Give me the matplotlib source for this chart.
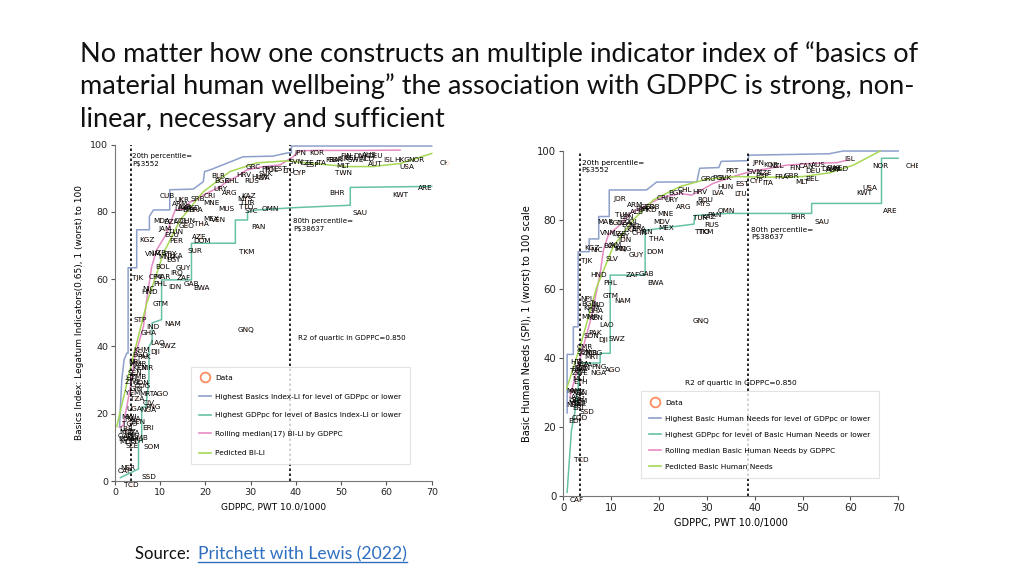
import matplotlib
matplotlib.use("Agg")
import matplotlib.pyplot as plt
from matplotlib.lines import Line2D
from matplotlib.transforms import Bbox, TransformedBbox

plt.rcParams['font.family'] = ['DejaVu Sans']

# ---- slide text ----
title_lines = [
    "No matter how one constructs an multiple indicator index of \u201cbasics of",
    "material human wellbeing\u201d the association with GDPPC is strong, non-",
    "linear, necessary and sufficient",
]
source_label = "Source:  "
source_link = "Pritchett with Lewis (2022)"

# ---- left panel: Legatum basics index ----
li_codes = ["JPN", "KOR", "SVN", "CZE", "ESP", "ITA", "FRA", "GBR", "ISR", "FIN",
            "BEL", "SWE", "DNK", "NLD", "AUS", "DEU", "AUT", "ISL", "HKG", "NOR",
            "USA", "CHE", "MLT", "TWN", "CYP", "BHR", "KWT", "ARE", "SAU", "GRC",
            "PRT", "POL", "EST", "LTU", "HUN", "SVK", "HRV", "RUS", "LVA", "BLR",
            "BGR", "CHL", "URY", "ARG", "SRB", "CRI", "MNE", "MUS", "KAZ", "MYS",
            "TUR", "TTO", "SYC", "OMN", "PAN", "TKM", "GNQ", "CUB", "UKR", "ARM",
            "ALB", "MKD", "BIH", "LBN", "BRA", "MDA", "DZA", "COL", "CHN", "THA",
            "MEX", "VEN", "JAM", "GEO", "TUN", "ECU", "PER", "AZE", "DOM", "KGZ",
            "SUR", "VNM", "UZB", "PRY", "MNG", "LKA", "EGY", "BOL", "GUY", "IRQ",
            "ZAF", "TJK", "CPV", "MAR", "PHL", "IDN", "GAB", "BWA", "NIC", "HND",
            "GTM", "STP", "IND", "NAM", "GHA", "LAO", "SWZ", "KHM", "DJI", "BGD",
            "PAK", "NPL", "MMR", "KEN", "CMR", "SEN", "ZMB", "HTI", "ZWE", "SDN",
            "COG", "GIN", "YEM", "MRT", "AGO", "TZA", "CIV", "PNG", "UGA", "NGA",
            "MWI", "RWA", "BEN", "TGO", "ERI", "LBR", "MOZ", "BFA", "AFG", "MLI",
            "GMB", "ETH", "MDG", "SLE", "SOM", "COD", "BDI", "SSD", "NER", "CAF",
            "TCD"]
li_gdp = [41.0, 44.5, 40.0, 42.5, 43.5, 45.5, 48.0, 48.8, 50.5, 51.0,
          52.2, 53.2, 54.5, 55.6, 56.2, 57.5, 57.5, 60.5, 63.5, 66.5,
          64.5, 73.5, 50.5, 50.5, 40.7, 49.0, 63.0, 68.5, 54.2, 30.5,
          33.8, 34.5, 36.5, 38.3, 31.8, 33.2, 28.4, 30.2, 32.8, 22.8,
          23.6, 25.8, 23.2, 25.4, 18.4, 21.0, 21.4, 24.7, 29.5, 28.8,
          29.3, 29.0, 30.2, 34.3, 31.7, 29.1, 28.9, 11.6, 14.7, 14.4,
          15.5, 17.0, 16.2, 14.8, 17.8, 10.3, 12.3, 14.5, 16.0, 19.2,
          21.2, 22.8, 11.0, 15.8, 13.3, 12.5, 13.5, 18.6, 19.2, 7.0,
          17.7, 8.5, 9.8, 12.2, 11.5, 13.5, 12.8, 10.5, 15.1, 13.6,
          15.1, 4.9, 9.0, 10.5, 10.0, 13.3, 16.9, 19.2, 7.4, 7.6,
          10.0, 5.5, 8.3, 12.7, 7.5, 9.4, 11.6, 5.9, 8.8, 5.6,
          6.5, 4.5, 5.0, 5.5, 6.8, 4.5, 5.2, 3.7, 4.0, 5.8,
          6.2, 4.6, 3.8, 7.0, 10.2, 4.8, 7.4, 8.5, 4.2, 7.4,
          3.0, 3.8, 5.0, 3.2, 7.4, 2.5, 2.9, 4.0, 3.3, 3.8,
          5.5, 4.8, 2.8, 3.7, 8.1, 2.3, 2.2, 7.4, 2.9, 2.2,
          3.7]
li_score = [97.5, 97.5, 95.0, 94.5, 94.0, 94.5, 95.5, 95.5, 95.8, 96.7,
            96.0, 95.5, 96.5, 95.8, 96.8, 96.5, 94.3, 95.3, 95.3, 95.3,
            93.5, 94.5, 93.7, 91.5, 91.6, 85.7, 85.0, 87.0, 79.6, 93.3,
            92.7, 92.5, 92.8, 92.3, 90.5, 91.2, 91.0, 89.2, 90.0, 90.7,
            89.3, 89.3, 86.7, 85.7, 84.0, 84.7, 82.7, 81.0, 84.7, 83.8,
            82.8, 81.4, 80.3, 81.0, 75.4, 68.2, 45.0, 84.7, 83.7, 82.4,
            81.5, 81.3, 80.5, 80.8, 80.6, 77.2, 77.1, 77.3, 77.2, 76.4,
            78.0, 77.6, 74.8, 75.8, 74.0, 73.0, 71.5, 72.6, 71.4, 71.6,
            68.5, 67.5, 67.8, 67.5, 66.5, 66.8, 65.7, 63.7, 63.2, 61.9,
            60.4, 60.4, 60.8, 60.6, 58.7, 57.7, 58.5, 57.4, 57.0, 56.2,
            52.5, 47.8, 45.8, 46.6, 44.1, 40.9, 40.2, 39.1, 38.4, 37.5,
            36.8, 35.5, 34.8, 33.5, 33.6, 32.0, 31.0, 30.5, 29.5, 29.2,
            28.4, 27.5, 26.3, 26.0, 25.8, 24.5, 23.2, 22.0, 21.5, 21.2,
            19.0, 18.5, 17.6, 17.0, 15.9, 15.5, 14.5, 14.2, 13.0, 12.5,
            12.8, 11.8, 11.5, 10.5, 10.1, 13.3, 12.5, 1.2, 4.0, 3.0,
            -1.3]

# envelope / smoother lines
li_best_x = [1.0, 1.2, 1.5, 2.0, 2.6, 2.9, 2.9, 4.8, 4.8, 7.6, 7.6, 8.5, 8.5, 12.1, 12.1,
             17.3, 19.5, 19.8, 21.0, 28.3, 34.9, 37.9, 39.0, 39.0, 70.0]
li_best_y = [16.0, 22.0, 30.0, 36.0, 38.0, 38.0, 63.4, 63.4, 74.7, 74.7, 78.7, 80.6, 80.6, 80.6, 86.6,
             86.8, 89.0, 92.0, 92.5, 96.4, 96.6, 97.5, 97.6, 99.6, 99.6]
li_reach_x = [1.2, 5.2, 5.2, 5.9, 5.9, 6.8, 7.5, 7.5, 8.2, 8.2, 10.3, 10.3, 16.9, 16.9,
              26.6, 26.6, 29.3, 29.3, 31.3, 40.0, 52.0, 52.0, 70.0]
li_reach_y = [1.0, 3.6, 12.0, 12.0, 22.0, 22.0, 30.0, 40.0, 41.5, 47.0, 48.0, 59.8, 59.8, 70.7,
              70.7, 77.6, 77.6, 80.0, 80.6, 81.3, 82.0, 87.3, 87.6]
li_median_x = [1.0, 1.8, 3.3, 4.4, 6.3, 7.0, 8.1, 9.2, 11.4, 13.3, 15.0, 16.6, 18.0, 19.5,
               23.2, 24.7, 26.9, 29.1, 32.0, 36.5, 39.4, 40.5, 45.0, 55.0, 63.0]
li_median_y = [16.0, 16.5, 27.0, 37.0, 46.0, 53.8, 63.7, 68.7, 73.6, 80.6, 80.8, 83.0, 83.5, 85.0,
               87.5, 89.0, 90.5, 92.5, 93.3, 94.0, 96.4, 98.2, 98.3, 98.3, 98.4]
li_pred_x = [0.4, 3.3, 7.0, 10.7, 14.4, 19.5, 25.4, 31.3, 38.0, 43.8, 51.2, 57.0, 63.0, 70.0]
li_pred_y = [16.2, 33.0, 52.8, 67.7, 77.6, 86.0, 92.0, 94.6, 95.2, 94.4, 93.5, 93.5, 94.4, 97.4]

# ---- right panel: SPI basic human needs ----
spi_codes = ["JPN", "KOR", "NZL", "SVN", "CZE", "ESP", "CYP", "ITA", "FRA", "GBR",
             "FIN", "CAN", "AUS", "DEU", "DNK", "SWE", "NLD", "AUT", "MLT", "BEL",
             "ISL", "NOR", "CHE", "USA", "KWT", "ARE", "BHR", "SAU", "PRT", "GRC",
             "POL", "SVK", "HUN", "EST", "LTU", "LVA", "HRV", "CHL", "BGR", "ROU",
             "MYS", "CRI", "URY", "ARG", "JOR", "ARM", "SRB", "GEO", "BIH", "MKD",
             "ALB", "MNE", "MDV", "MEX", "THA", "DOM", "OMN", "KAZ", "PAN", "TUR",
             "RUS", "TTO", "TKM", "TUN", "LBN", "MAR", "EGY", "DZA", "COL", "ECU",
             "PER", "BRA", "LKA", "CHN", "IRN", "VNM", "UZB", "PRY", "IDN", "JAM",
             "BOL", "KGZ", "NIC", "IRQ", "MNG", "TJK", "SLV", "GUY", "HND", "ZAF",
             "GAB", "BWA", "PHL", "GTM", "NAM", "NPL", "BGD", "IND", "KHM", "GHA",
             "MMR", "KEN", "LAO", "SWZ", "DJI", "PAK", "SDN", "GNQ", "CMR", "SEN",
             "ZMB", "COG", "MRT", "HTI", "UGA", "TZA", "BEN", "RWA", "TGO", "ZWE",
             "NGA", "PNG", "AGO", "MLI", "ETH", "MWI", "MOZ", "GIN", "AFG", "LBR",
             "YEM", "MDG", "SLE", "NER", "ERI", "SSD", "COD", "BDI", "TCD", "CAF"]
spi_gdp = [40.7, 43.3, 44.6, 40.0, 42.1, 41.6, 40.4, 42.8, 45.6, 47.7,
           48.4, 50.8, 53.3, 52.2, 55.6, 56.8, 57.9, 56.5, 49.8, 51.9,
           59.9, 66.2, 73.2, 64.1, 62.8, 68.4, 49.1, 54.0, 35.2, 30.3,
           32.5, 33.7, 33.8, 37.3, 37.0, 32.2, 28.6, 25.4, 23.5, 29.6,
           29.2, 20.7, 22.6, 25.2, 11.8, 15.0, 18.8, 17.6, 16.4, 17.9,
           15.4, 21.4, 20.5, 21.6, 19.4, 19.2, 34.1, 30.4, 31.6, 28.6,
           31.0, 29.0, 29.8, 12.3, 13.2, 8.7, 10.8, 12.8, 14.3, 13.6,
           15.0, 15.8, 14.0, 16.0, 17.5, 9.4, 11.6, 12.5, 12.8, 10.7,
           9.8, 5.9, 7.0, 12.0, 12.4, 4.9, 10.1, 15.3, 7.3, 14.6,
           17.4, 19.2, 9.7, 9.9, 12.5, 4.9, 5.5, 7.3, 5.8, 6.8,
           5.5, 6.8, 9.1, 11.3, 8.4, 6.6, 5.8, 28.8, 4.5, 4.2,
           5.6, 6.5, 6.0, 2.8, 3.8, 4.5, 4.0, 3.3, 3.0, 3.5,
           7.3, 7.5, 10.3, 3.2, 3.5, 2.2, 2.8, 3.8, 3.2, 2.6,
           3.5, 2.9, 3.6, 2.3, 3.0, 4.9, 3.5, 2.4, 3.8, 2.8]
spi_score = [96.6, 96.0, 95.6, 94.0, 93.5, 92.8, 91.2, 90.8, 92.6, 92.8,
             95.0, 95.6, 95.9, 94.3, 94.8, 95.0, 94.8, 94.6, 91.1, 91.9,
             97.6, 95.6, 95.6, 89.4, 87.9, 82.6, 80.9, 79.4, 94.3, 91.8,
             92.1, 92.1, 89.7, 90.4, 87.4, 87.7, 88.2, 88.7, 87.7, 85.8,
             84.6, 86.5, 85.8, 83.8, 86.0, 84.3, 83.8, 83.8, 83.3, 83.0,
             82.2, 81.7, 79.5, 77.6, 74.6, 70.8, 82.7, 81.0, 81.4, 80.5,
             78.5, 76.6, 76.6, 81.5, 80.9, 79.5, 79.2, 79.0, 79.3, 78.5,
             78.0, 77.5, 77.2, 76.3, 76.5, 76.1, 75.8, 75.3, 74.2, 72.7,
             72.5, 72.0, 71.3, 71.5, 71.7, 68.2, 68.6, 69.7, 64.0, 64.0,
             64.3, 61.8, 61.8, 58.0, 56.5, 57.1, 55.7, 55.3, 54.6, 53.6,
             51.9, 51.5, 49.5, 45.6, 45.2, 47.3, 46.3, 50.7, 43.0, 41.8,
             41.5, 41.5, 40.3, 38.8, 38.3, 37.8, 37.0, 36.8, 36.2, 35.6,
             35.5, 37.3, 36.5, 34.0, 33.1, 30.5, 30.2, 29.8, 28.5, 27.8,
             27.5, 27.0, 26.5, 26.3, 25.5, 24.4, 22.4, 21.8, 10.5, -1.3]

spi_best_x = [0.8, 0.8, 2.1, 2.1, 3.1, 3.1, 5.4, 5.4, 7.4, 7.4, 9.6, 9.6, 17.4, 19.5,
              27.9, 28.5, 32.5, 33.0, 38.5, 38.8, 55.5, 58.5, 70.0]
spi_best_y = [24.0, 41.0, 41.0, 49.0, 49.0, 70.8, 70.8, 74.5, 74.5, 81.0, 81.0, 88.7, 88.7, 91.0,
              91.0, 95.0, 95.2, 97.0, 97.2, 98.8, 99.2, 100.0, 100.0]
spi_reach_x = [0.8, 1.7, 2.4, 3.1, 3.4, 7.7, 7.7, 9.8, 9.8, 17.1, 17.1, 27.3, 27.5, 34.3,
               51.9, 51.9, 66.5, 66.5, 70.0]
spi_reach_y = [1.0, 19.0, 24.0, 31.6, 38.5, 38.5, 41.3, 41.3, 64.0, 64.0, 77.0, 78.8, 81.3, 81.9,
               81.9, 84.8, 84.8, 97.9, 97.9]
spi_median_x = [1.4, 3.8, 5.9, 7.7, 8.4, 9.4, 11.8, 13.9, 16.7, 20.2, 24.4, 26.8, 28.9, 31.3,
                35.5, 39.0, 41.1, 46.7, 51.5, 57.1, 59.5]
spi_median_y = [28.7, 41.3, 52.0, 64.5, 71.3, 75.6, 78.5, 81.9, 83.8, 86.3, 87.7, 87.2, 88.7, 90.6,
                92.6, 94.0, 94.5, 95.9, 96.4, 96.6, 97.4]
spi_pred_x = [0.7, 3.5, 7.0, 10.4, 14.6, 18.8, 24.4, 29.9, 36.2, 43.2, 50.1, 55.7, 60.6, 66.2]
spi_pred_y = [31.1, 43.2, 60.6, 72.2, 80.0, 85.8, 89.7, 91.8, 92.6, 92.4, 92.6, 93.7, 95.9, 100.0]

pct20 = 3.552
pct80 = 38.637

# Set2 colours used by the original
c_data = '#fc8d62'
c_best = '#8da0cb'
c_reach = '#66c2a5'
c_median = '#e78ac3'
c_pred = '#a6d854'


def draw_panel(ax, codes, gdp, score, best, reach, median, pred, legend_labels,
               ylabel, xlabel, fs, note_fs, r2_xy, p80_xy, clip_x, leg_anchor,
               leg_fs, leg_space):
    ax.scatter(gdp, score, s=5, facecolors='none', edgecolors=c_data, linewidths=0.5,
               alpha=0.35, zorder=2, clip_on=False)
    ax.plot(*best, color=c_best, lw=1.1, zorder=3, clip_on=False)
    ax.plot(*reach, color=c_reach, lw=1.1, zorder=3, clip_on=False)
    ax.plot(*median, color=c_median, lw=1.1, zorder=3, clip_on=False)
    ax.plot(*pred, color=c_pred, lw=1.1, zorder=3, clip_on=False)

    for v in (pct20, pct80):
        ax.axvline(v, color='black', ls=(0, (1.5, 1.5)), lw=1.2, zorder=4)

    clip = TransformedBbox(Bbox([[-10, -20], [clip_x, 120]]), ax.transData)
    for c, x, y in zip(codes, gdp, score):
        t = ax.text(x, y, c, fontsize=5.2, ha='center', va='center', zorder=5,
                    color='black')
        t.set_clip_path(None)
        t.set_clip_box(clip)
        t.set_clip_on(True)

    ax.text(pct20 + 0.3, 97.5, "20th percentile=\nP$3552", fontsize=note_fs,
            va='top', ha='left', linespacing=1.3, zorder=6)
    ax.text(p80_xy[0], p80_xy[1], "80th percentile=\nP$38637", fontsize=note_fs,
            va='top', ha='left', linespacing=1.3, zorder=6)
    ax.text(r2_xy[0], r2_xy[1], "R2 of quartic in GDPPC=0.850", fontsize=note_fs,
            va='center', ha='left', zorder=6)

    ax.set_xlim(0, 70)
    ax.set_ylim(0, 100)
    ax.set_xticks(range(0, 71, 10))
    ax.set_yticks(range(0, 101, 20))
    ax.tick_params(labelsize=fs, length=3, width=0.8, color='#555555',
                   labelcolor='#222222', pad=2)
    for s in ('top', 'right'):
        ax.spines[s].set_visible(False)
    for s in ('left', 'bottom'):
        ax.spines[s].set_color('#777777')
        ax.spines[s].set_linewidth(0.8)
    ax.set_ylabel(ylabel, fontsize=fs - 0.3, labelpad=4)
    ax.set_xlabel(xlabel, fontsize=fs - 0.3, labelpad=4)

    handles = [
        Line2D([], [], ls='none', marker='o', markersize=7, markerfacecolor='none',
               markeredgecolor=c_data, markeredgewidth=1.3),
        Line2D([], [], color=c_best, lw=1.2),
        Line2D([], [], color=c_reach, lw=1.2),
        Line2D([], [], color=c_median, lw=1.2),
        Line2D([], [], color=c_pred, lw=1.2),
    ]
    leg = ax.legend(handles, legend_labels, loc='lower left', bbox_to_anchor=leg_anchor,
                    fontsize=leg_fs, frameon=True, fancybox=False, labelspacing=leg_space,
                    handlelength=1.6, handletextpad=0.6, borderpad=1.1,
                    borderaxespad=0)
    leg.get_frame().set_edgecolor('#dddddd')
    leg.get_frame().set_linewidth(0.8)
    leg.set_zorder(7)


fig = plt.figure(figsize=(10.24, 5.76), dpi=100)

ax1 = fig.add_axes([0.1123, 0.1649, 0.3093, 0.5839])
draw_panel(ax1, li_codes, li_gdp, li_score,
           (li_best_x, li_best_y), (li_reach_x, li_reach_y),
           (li_median_x, li_median_y), (li_pred_x, li_pred_y),
           ["Data", "Highest Basics Index-LI for level of GDPpc or lower",
            "Highest GDPpc for level of Basics Index-LI or lower",
            "Rolling median(17) BI-LI by GDPPC", "Pedicted BI-LI"],
           "Basics Index: Legatum Indicators(0.65), 1 (worst) to 100",
           "GDPPC, PWT 10.0/1000", 6.8, 5.1, (40.4, 42.6), (39.3, 78.2), 73.3,
           (0.24, 0.05), 5.3, 1.7)

ax2 = fig.add_axes([0.5501, 0.1394, 0.3271, 0.5984])
draw_panel(ax2, spi_codes, spi_gdp, spi_score,
           (spi_best_x, spi_best_y), (spi_reach_x, spi_reach_y),
           (spi_median_x, spi_median_y), (spi_pred_x, spi_pred_y),
           ["Data", "Highest Basic Human Needs for level of GDPpc or lower",
            "Highest GDPpc for level of Basic Human Needs or lower",
            "Rolling median Basic Human Needs by GDPPC", "Pedicted Basic Human Needs"],
           "Basic Human Needs (SPI), 1 (worst) to 100 scale",
           "GDPPC, PWT 10.0/1000", 7.3, 5.3, (25.4, 32.6), (39.2, 78.0), 74.1,
           (0.232, 0.051), 5.3, 1.35)

# slide title
for i, line in enumerate(title_lines):
    fig.text(80 / 1024, 1 - (61.7 + 32.5 * i) / 576, line, family='Lato', fontsize=19.5,
             va='baseline', ha='left', color='#111111')

# source line with an underlined link
t_src = fig.text(135 / 1024, 1 - 559 / 576, source_label, family='Lato', fontsize=12,
                 va='baseline', ha='left', color='#111111')
fig.canvas.draw()
bb = t_src.get_window_extent()
t_link = fig.text(bb.x1 / 1024, 1 - 559 / 576, source_link, family='Lato', fontsize=12.6,
                  va='baseline', ha='left', color='#2e6fc0')
fig.canvas.draw()
lb = t_link.get_window_extent()
fig.add_artist(Line2D([lb.x0 / 1024, lb.x1 / 1024], [1 - 562 / 576, 1 - 562 / 576],
                      color='#2e6fc0', lw=1.0))

fig.savefig("out.png", dpi=100)
